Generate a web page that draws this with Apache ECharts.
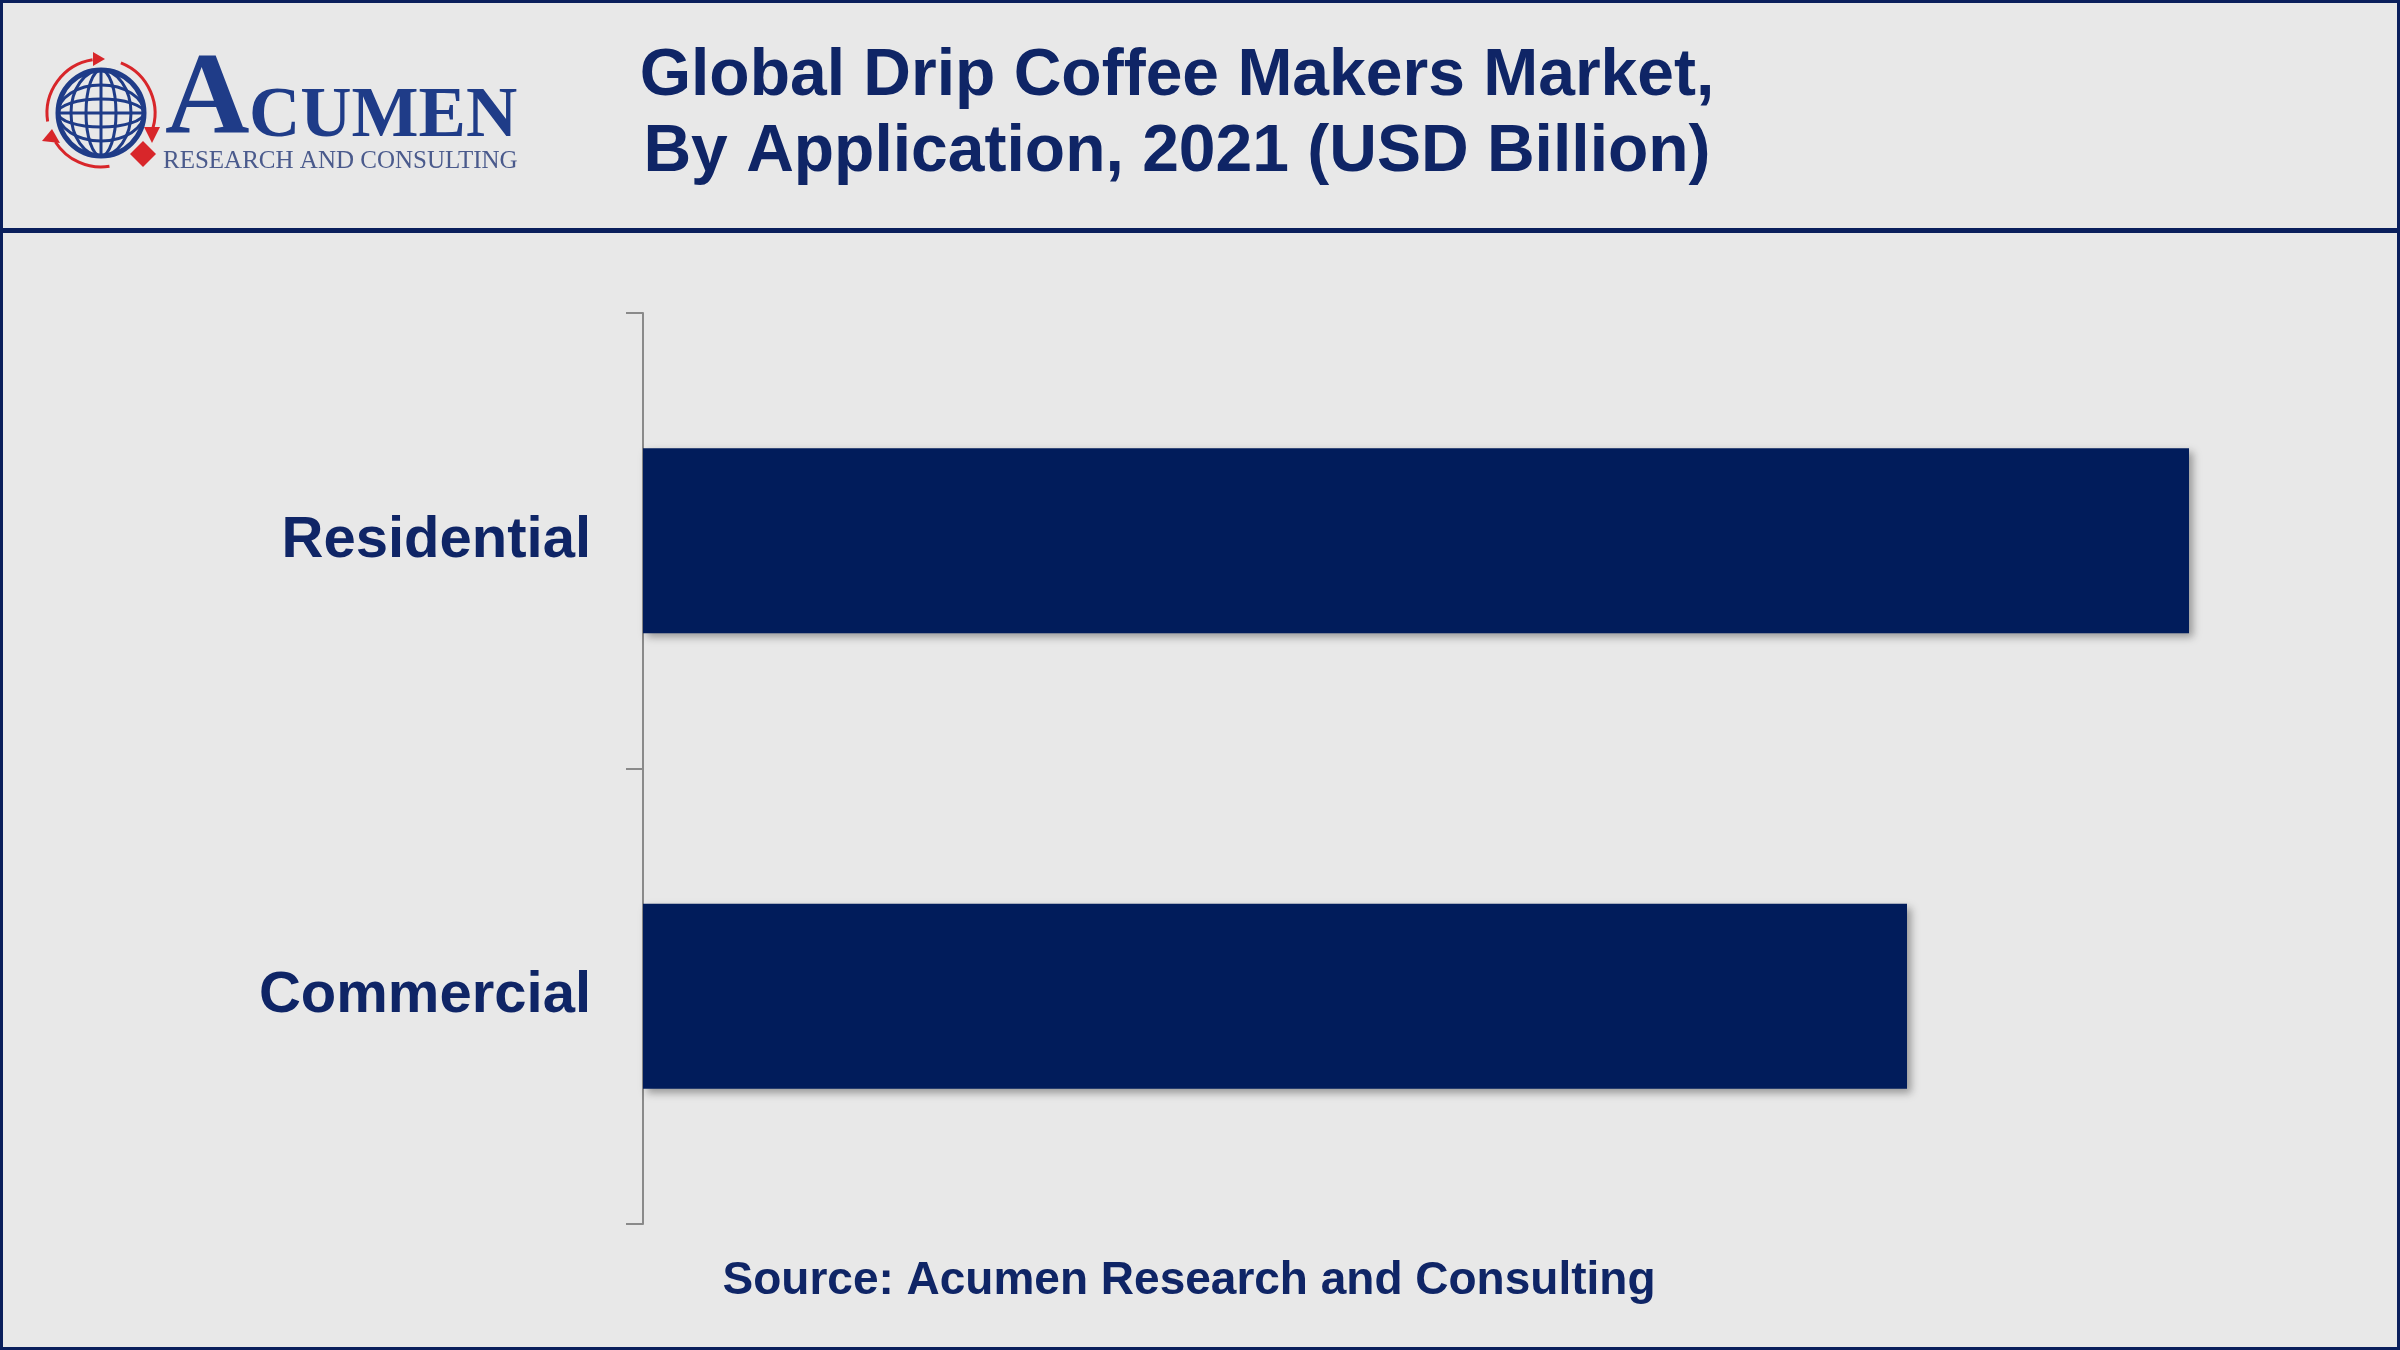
<!DOCTYPE html>
<html><head><meta charset="utf-8">
<script src="https://cdn.jsdelivr.net/npm/echarts@6/dist/echarts.min.js"></script>
<style>html,body{margin:0;padding:0;background:#e8e8e8}#c{width:2400px;height:1350px}</style>
</head><body><div id="c"></div>
<script>
const categories = ['Residential', 'Commercial'];
const values = [1.546, 1.264];
const titleLines = ['Global Drip Coffee Makers Market,', 'By Application, 2021 (USD Billion)'];
const sourceText = 'Source: Acumen Research and Consulting';

const NAVY = '#0f2566';
const BAR = '#011c5b';
const BLUE = '#1f3c88';
const RED = '#d8262a';

const chart = echarts.init(document.getElementById('c'));
const gx = 101, gy = 113, gr = 43;
const globe = [
  {type:'circle', shape:{cx:gx, cy:gy, r:gr}, style:{fill:'none', stroke:BLUE, lineWidth:5}},
  {type:'ellipse', shape:{cx:gx, cy:gy, rx:15, ry:gr}, style:{fill:'none', stroke:BLUE, lineWidth:3}},
  {type:'ellipse', shape:{cx:gx, cy:gy, rx:30, ry:gr}, style:{fill:'none', stroke:BLUE, lineWidth:3}},
  {type:'line', shape:{x1:gx, y1:gy-gr, x2:gx, y2:gy+gr}, style:{stroke:BLUE, lineWidth:3}},
  {type:'line', shape:{x1:gx-gr, y1:gy, x2:gx+gr, y2:gy}, style:{stroke:BLUE, lineWidth:3}},
  {type:'ellipse', shape:{cx:gx, cy:gy, rx:gr, ry:14}, style:{fill:'none', stroke:BLUE, lineWidth:3}},
  {type:'ellipse', shape:{cx:gx, cy:gy, rx:gr, ry:28}, style:{fill:'none', stroke:BLUE, lineWidth:3}},
  {type:'arc', shape:{cx:gx, cy:gy, r:54, startAngle:Math.PI*0.95, endAngle:Math.PI*1.45}, style:{stroke:RED, lineWidth:3, fill:'none'}},
  {type:'polygon', shape:{points:[[gx-8,gy-61],[gx+4,gy-54],[gx-8,gy-47]]}, style:{fill:RED}},
  {type:'arc', shape:{cx:gx, cy:gy, r:54, startAngle:Math.PI*1.62, endAngle:Math.PI*2.12}, style:{stroke:RED, lineWidth:3, fill:'none'}},
  {type:'polygon', shape:{points:[[gx+43,gy+14],[gx+51,gy+30],[gx+59,gy+14]]}, style:{fill:RED}},
  {type:'arc', shape:{cx:gx, cy:gy, r:54, startAngle:Math.PI*0.45, endAngle:Math.PI*0.82}, style:{stroke:RED, lineWidth:3, fill:'none'}},
  {type:'polygon', shape:{points:[[gx-59,gy+28],[gx-49,gy+16],[gx-41,gy+30]]}, style:{fill:RED}},
  {type:'polygon', shape:{points:[[143,141],[156,154],[143,167],[130,154]]}, style:{fill:RED}}
];

chart.setOption({
  backgroundColor:'#e8e8e8',
  animation:false,
  grid:{left:643, top:313, right:157, bottom:126, containLabel:false},
  xAxis:{type:'value', min:0, max:1.6, interval:0.4, show:false},
  yAxis:{type:'category', data:categories, inverse:true,
    axisLine:{show:true, lineStyle:{color:'#8a8a8a', width:2}},
    axisTick:{show:true, length:17, lineStyle:{color:'#8a8a8a', width:2}},
    axisLabel:{fontSize:58, fontWeight:'bold', color:NAVY, margin:52, padding:[10,0,0,0], fontFamily:'Liberation Sans, Arial, sans-serif'},
    splitLine:{show:false}},
  series:[{type:'bar', data:values, barWidth:185,
    itemStyle:{color:BAR, shadowColor:'rgba(0,0,0,0.35)', shadowBlur:8, shadowOffsetX:4, shadowOffsetY:4}}],
  graphic:[
    {type:'rect', shape:{x:1.5, y:1.5, width:2397, height:1347}, style:{fill:'none', stroke:'#0a1f5c', lineWidth:3}, z:100},
    {type:'rect', shape:{x:0, y:228, width:2400, height:5}, style:{fill:'#0a1f5c'}, z:100},
    {type:'text', x:1177, y:77, style:{text:titleLines[0], fill:NAVY, font:'bold 66px "Liberation Sans", Arial, sans-serif', textAlign:'center', textVerticalAlign:'middle'}},
    {type:'text', x:1177, y:153, style:{text:titleLines[1], fill:NAVY, font:'bold 66px "Liberation Sans", Arial, sans-serif', textAlign:'center', textVerticalAlign:'middle'}},
    {type:'text', x:1189, y:1281, style:{text:sourceText, fill:NAVY, font:'bold 46px "Liberation Sans", Arial, sans-serif', textAlign:'center', textVerticalAlign:'middle'}},
    {type:'group', children:globe},
    {type:'text', x:165, y:102, style:{text:'A', fill:BLUE, font:'bold 117px "Liberation Serif", "Times New Roman", serif', textAlign:'left', textVerticalAlign:'middle'}},
    {type:'text', x:249, y:118, style:{text:'CUMEN', fill:BLUE, font:'bold 71px "Liberation Serif", "Times New Roman", serif', textAlign:'left', textVerticalAlign:'middle'}},
    {type:'text', x:163, y:161, style:{text:'RESEARCH AND CONSULTING', fill:'#4a5a8c', font:'25px "Liberation Serif", "Times New Roman", serif', textAlign:'left', textVerticalAlign:'middle'}}
  ]
});
</script></body></html>
